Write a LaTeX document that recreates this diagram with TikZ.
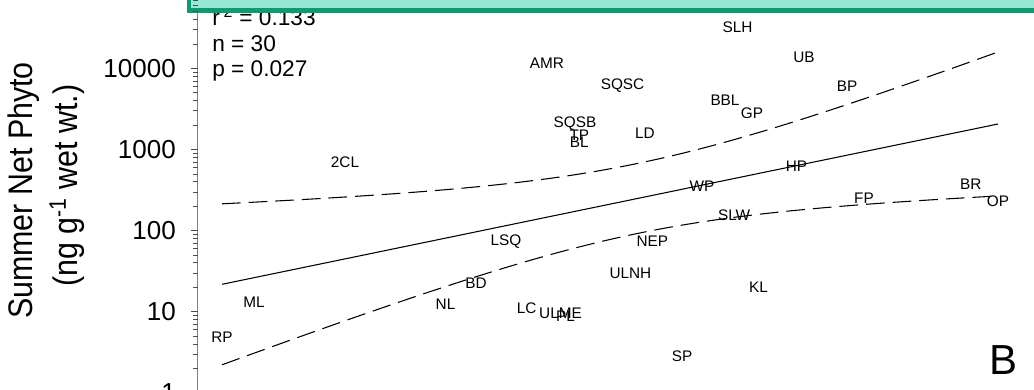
\documentclass[tikz,border=0pt]{standalone}
\usepackage{fontspec}
\setmainfont{Liberation Sans}
\usepackage{graphicx}
\definecolor{boxfill}{HTML}{96E8D4}
\definecolor{boxline}{HTML}{0B9B72}
\definecolor{axisgray}{HTML}{808080}
\begin{document}
\begin{tikzpicture}[x=0.75pt,y=-0.75pt,
  lbl/.style={font=\fontsize{11.5}{13}\selectfont, inner sep=0pt, anchor=center},
  ticklbl/.style={font=\fontsize{19.5}{22}\selectfont, inner sep=0pt, anchor=east},
  stat/.style={font=\fontsize{17}{20}\selectfont, inner sep=0pt, anchor=base west},
  ylab/.style={rotate=90, anchor=base, inner sep=0pt, font=\fontsize{22.8}{26}\selectfont},
  band/.style={line width=0.8pt, dash pattern=on 14pt off 6pt},
  fitline/.style={line width=0.8pt},
  tickline/.style={line width=0.7pt, black!70}]
\useasboundingbox (0,0) rectangle (1034,389);

% statistics text
\node[stat] (r2) at (212,25.5) {r\,\textsuperscript{2} = 0.133};
\node[stat] (nn) at (212,51.7) {n = 30};
\node[stat] (pp) at (212,76.7) {p = 0.027};

% green box at top
\path[fill=boxfill, draw=boxline, line width=3.4pt] (189,-20) rectangle (1060,10.3);

% axis
\draw[axisgray, line width=1.2pt] (197.5,12.5) -- (197.5,395);
\foreach \k in {0,...,4}{
  \foreach \m in {1,...,9}{
    \pgfmathsetmacro\yy{392.8-81.07*(\k+log10(\m))}
    \ifnum\m=1
      \draw[tickline] (191,\yy) -- (197.5,\yy);
    \else
      \draw[tickline] (193,\yy) -- (197.5,\yy);
    \fi
  }
}

% tick labels
\node[ticklbl] (t1) at (176,392.8) {1};
\node[ticklbl] (t10) at (176,311.7) {10};
\node[ticklbl] (t100) at (176,230.6) {100};
\node[ticklbl] (t1000) at (176,149.6) {1000};
\node[ticklbl] (t10000) at (176,68.5) {10000};

% axis title
\node[ylab] (ylab1) at (32,190.5) {\scalebox{1}[1.12]{Summer Net Phyto}};
\node[ylab] (ylab2) at (77,185.5) {\scalebox{1}[1.12]{(ng g\textsuperscript{-1} wet wt.)}};

% regression line and confidence band
\draw[fitline] (222,284.3) -- (998,124.0);
\draw[band] plot[domain=222:998, samples=90]
  (\x,{284.3-0.2066*(\x-222)-sqrt(1225+(0.1745*(\x-637.4))^2)});
\draw[band] plot[domain=222:998, samples=90]
  (\x,{284.3-0.2066*(\x-222)+sqrt(1225+(0.1745*(\x-637.4))^2)});

% site labels
\node[lbl] (SLH) at (737.6,27.7) {SLH};
\node[lbl] (UB) at (803.9,57.5) {UB};
\node[lbl] (AMR) at (547,63) {AMR};
\node[lbl] (SQSC) at (622.5,86) {SQSC};
\node[lbl] (BP) at (847.1,86.3) {BP};
\node[lbl] (BBL) at (725,100.5) {BBL};
\node[lbl] (GP) at (751.9,113.3) {GP};
\node[lbl] (SQSB) at (575,124) {SQSB};
\node[lbl] (TP) at (579.3,135) {TP};
\node[lbl] (BL) at (579.3,142.7) {BL};
\node[lbl] (LD) at (645,133.7) {LD};
\node[lbl] (n2CL) at (345,162.5) {2CL};
\node[lbl] (HP) at (796.4,166) {HP};
\node[lbl] (WP) at (701.9,186) {WP};
\node[lbl] (BR) at (970.7,184) {BR};
\node[lbl] (FP) at (864,198.3) {FP};
\node[lbl] (OP) at (998,201.7) {OP};
\node[lbl] (SLW) at (734.1,215) {SLW};
\node[lbl] (NEP) at (652.4,241) {NEP};
\node[lbl] (LSQ) at (506,241.7) {LSQ};
\node[lbl] (ULNH) at (630.4,273.7) {ULNH};
\node[lbl] (KL) at (758.6,287.7) {KL};
\node[lbl] (BD) at (476,283.3) {BD};
\node[lbl] (NL) at (445.5,304.3) {NL};
\node[lbl] (ML) at (254,302.3) {ML};
\node[lbl] (LC) at (526.7,308.3) {LC};
\node[lbl] (ULME) at (560.5,313.3) {ULME};
\node[lbl] (PL) at (565.5,316) {PL};
\node[lbl] (RP) at (222,337.7) {RP};
\node[lbl] (SP) at (682,356) {SP};

% panel letter
\node[font=\fontsize{31.5}{36}\selectfont, inner sep=0pt] (panelB) at (1003,360) {B};
\end{tikzpicture}
\end{document}
